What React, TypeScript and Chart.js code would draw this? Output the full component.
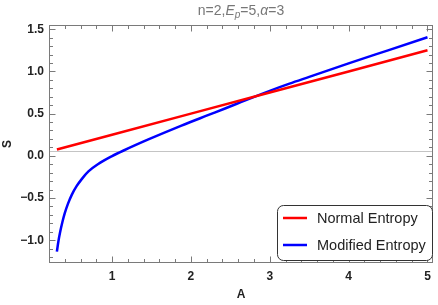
import React, { useEffect, useRef } from 'react';
import { Chart, registerables } from 'chart.js';

Chart.register(...registerables);

// ---- data ----
const NORMAL_LABEL = 'Normal Entropy';
const NORMAL_A = [0.3, 1, 2, 3, 4, 5];
const NORMAL_S = [0.075, 0.25, 0.5, 0.75, 1.0, 1.25];

const MODIFIED_LABEL = 'Modified Entropy';
const MODIFIED_A = [0.3, 0.32, 0.34, 0.37, 0.4, 0.44, 0.49, 0.55, 0.62, 0.7, 0.82, 1.0, 1.14, 1.46, 1.88, 2.3, 2.59, 3.0, 3.25, 3.5, 4.0, 4.5, 5.0];
const MODIFIED_S = [-1.135, -1.01, -0.91, -0.785, -0.68, -0.57, -0.46, -0.36, -0.27, -0.185, -0.1, -0.004, 0.06, 0.194, 0.358, 0.511, 0.62, 0.77, 0.855, 0.935, 1.095, 1.25, 1.405];

const X_TICKS = [1, 2, 3, 4, 5];
const Y_TICKS = [-1, -0.5, 0, 0.5, 1, 1.5];
const X_MINOR_STEP = 0.2;
const Y_MINOR_STEP = 0.1;
const X_MIN = 0.2;
const X_MAX = 5.07;
const Y_MIN = -1.27;
const Y_MAX = 1.55;
const AXIS_S = 0.06;

const X_TITLE = 'A';
const Y_TITLE = 'S';
const TITLE_PARTS = [
  { t: 'n=2,', italic: false, sub: false },
  { t: 'E', italic: true, sub: false },
  { t: 'p', italic: true, sub: true },
  { t: '=5,', italic: false, sub: false },
  { t: 'α', italic: true, sub: false },
  { t: '=3', italic: false, sub: false },
];

const FONT = '"Liberation Sans", Arial, sans-serif';
const FRAME = '#7a7a7a';

function minorValues(min: number, max: number, step: number) {
  const out: number[] = [];
  const start = Math.ceil(min / step - 1e-9);
  const end = Math.floor(max / step + 1e-9);
  for (let i = start; i <= end; i++) out.push(+(i * step).toFixed(6));
  return out;
}

const decor = {
  id: 'decor',
  beforeDatasetsDraw(chart: any) {
    const { ctx, chartArea: a, scales } = chart;
    const py = Math.round(scales.y.getPixelForValue(AXIS_S)) + 0.5;
    ctx.save();
    ctx.strokeStyle = '#c4c4c4';
    ctx.lineWidth = 1;
    ctx.beginPath();
    ctx.moveTo(a.left, py);
    ctx.lineTo(a.right, py);
    ctx.stroke();
    ctx.restore();
  },
  afterDatasetsDraw(chart: any) {
    const { ctx, chartArea: a, scales } = chart;
    const xs = scales.x;
    const ys = scales.y;
    ctx.save();
    // frame
    ctx.strokeStyle = FRAME;
    ctx.lineWidth = 1;
    ctx.strokeRect(Math.round(a.left) + 0.5, Math.round(a.top) + 0.5, Math.round(a.right - a.left) - 1, Math.round(a.bottom - a.top) - 1);
    // ticks
    const L = Math.round(a.left) + 0.5, R = Math.round(a.right) - 0.5;
    const T = Math.round(a.top) + 0.5, B = Math.round(a.bottom) - 0.5;
    ctx.beginPath();
    const xMinor = minorValues(X_MIN, X_MAX, X_MINOR_STEP);
    xMinor.forEach((v) => {
      const major = X_TICKS.some((m) => Math.abs(m - v) < 1e-6);
      const len = major ? 6 : 3.5;
      const px = Math.round(xs.getPixelForValue(v)) + 0.5;
      ctx.moveTo(px, B); ctx.lineTo(px, B - len);
      ctx.moveTo(px, T); ctx.lineTo(px, T + len);
    });
    const yMinor = minorValues(Y_MIN, Y_MAX, Y_MINOR_STEP);
    yMinor.forEach((v) => {
      const major = Y_TICKS.some((m) => Math.abs(m - v) < 1e-6);
      const len = major ? 6 : 3.5;
      const py = Math.round(ys.getPixelForValue(v)) + 0.5;
      ctx.moveTo(L, py); ctx.lineTo(L + len, py);
      ctx.moveTo(R, py); ctx.lineTo(R - len, py);
    });
    ctx.stroke();

    // legend
    const bx = 277.5, by = 205.5, bw = 155, bh = 55, r = 6;
    ctx.beginPath();
    ctx.moveTo(bx + r, by);
    ctx.lineTo(bx + bw - r, by);
    ctx.arcTo(bx + bw, by, bx + bw, by + r, r);
    ctx.lineTo(bx + bw, by + bh - r);
    ctx.arcTo(bx + bw, by + bh, bx + bw - r, by + bh, r);
    ctx.lineTo(bx + r, by + bh);
    ctx.arcTo(bx, by + bh, bx, by + bh - r, r);
    ctx.lineTo(bx, by + r);
    ctx.arcTo(bx, by, bx + r, by, r);
    ctx.closePath();
    ctx.fillStyle = '#ffffff';
    ctx.fill();
    ctx.strokeStyle = '#333333';
    ctx.lineWidth = 1;
    ctx.stroke();
    chart.data.datasets.forEach((ds: any, i: number) => {
      const ry = 218 + i * 27;
      ctx.strokeStyle = ds.borderColor;
      ctx.lineWidth = 2.5;
      ctx.beginPath();
      ctx.moveTo(283, ry);
      ctx.lineTo(307, ry);
      ctx.stroke();
      ctx.fillStyle = '#222222';
      ctx.font = `14.5px ${FONT}`;
      ctx.textBaseline = 'middle';
      ctx.textAlign = 'left';
      ctx.fillText(ds.label, 317, ry + 0.5);
    });

    // title
    const fontFor = (p: any) => `${p.italic ? 'italic ' : ''}${p.sub ? 10 : 14}px ${FONT}`;
    let total = 0;
    TITLE_PARTS.forEach((p) => { ctx.font = fontFor(p); total += ctx.measureText(p.t).width; });
    let x = (a.left + a.right) / 2 - total / 2;
    ctx.fillStyle = '#777777';
    ctx.textBaseline = 'alphabetic';
    ctx.textAlign = 'left';
    TITLE_PARTS.forEach((p) => {
      ctx.font = fontFor(p);
      ctx.fillText(p.t, x, p.sub ? 18 : 15);
      x += ctx.measureText(p.t).width;
    });
    ctx.restore();
  },
};

export default function App() {
  const ref = useRef<HTMLCanvasElement | null>(null);
  useEffect(() => {
    if (!ref.current) return;
    const chart = new Chart(ref.current, {
      type: 'line',
      data: {
        datasets: [
          {
            label: NORMAL_LABEL,
            data: NORMAL_A.map((a, i) => ({ x: a, y: NORMAL_S[i] })),
            borderColor: '#ff0000',
            borderWidth: 2.5,
            pointRadius: 0,
            fill: false,
          },
          {
            label: MODIFIED_LABEL,
            data: MODIFIED_A.map((a, i) => ({ x: a, y: MODIFIED_S[i] })),
            borderColor: '#0000ff',
            borderWidth: 2.5,
            pointRadius: 0,
            fill: false,
            cubicInterpolationMode: 'monotone',
          },
        ],
      },
      options: {
        responsive: false,
        animation: false,
        devicePixelRatio: 1,
        layout: { padding: { top: 25, right: 5, left: 0, bottom: 0 } },
        plugins: { legend: { display: false }, title: { display: false }, tooltip: { enabled: false } },
        scales: {
          x: {
            type: 'linear',
            min: X_MIN,
            max: X_MAX,
            grid: { display: false, drawTicks: false },
            border: { display: false },
            afterBuildTicks: (s: any) => { s.ticks = X_TICKS.map((v) => ({ value: v })); },
            afterFit: (s: any) => { s.height = 42; },
            ticks: {
              padding: 6,
              color: '#222',
              font: { family: FONT, size: 12, weight: 'bold' },
              callback: (v: any) => String(v),
              maxRotation: 0,
            },
            title: {
              display: true,
              text: X_TITLE,
              color: '#222',
              font: { family: FONT, size: 12, weight: 'bold' },
              padding: { top: 0, bottom: 3 },
            },
          },
          y: {
            type: 'linear',
            min: Y_MIN,
            max: Y_MAX,
            grid: { display: false, drawTicks: false },
            border: { display: false },
            afterBuildTicks: (s: any) => { s.ticks = Y_TICKS.map((v) => ({ value: v })); },
            afterFit: (s: any) => { s.width = 49; },
            ticks: {
              padding: 5,
              color: '#222',
              font: { family: FONT, size: 12, weight: 'bold' },
              callback: (v: any) => (v < 0 ? '\u2212' : '') + Math.abs(v).toFixed(1),
            },
            title: {
              display: true,
              text: Y_TITLE,
              color: '#222',
              font: { family: FONT, size: 12, weight: 'bold' },
              padding: { top: 0, bottom: 0 },
            },
          },
        },
      },
      plugins: [decor],
    } as any);
    return () => chart.destroy();
  }, []);
  return (
    <div style={{ position: 'fixed', left: 0, top: 0, width: 438, height: 305, background: '#fff' }}>
      <canvas ref={ref} width={438} height={305} style={{ display: 'block' }} />
    </div>
  );
}
